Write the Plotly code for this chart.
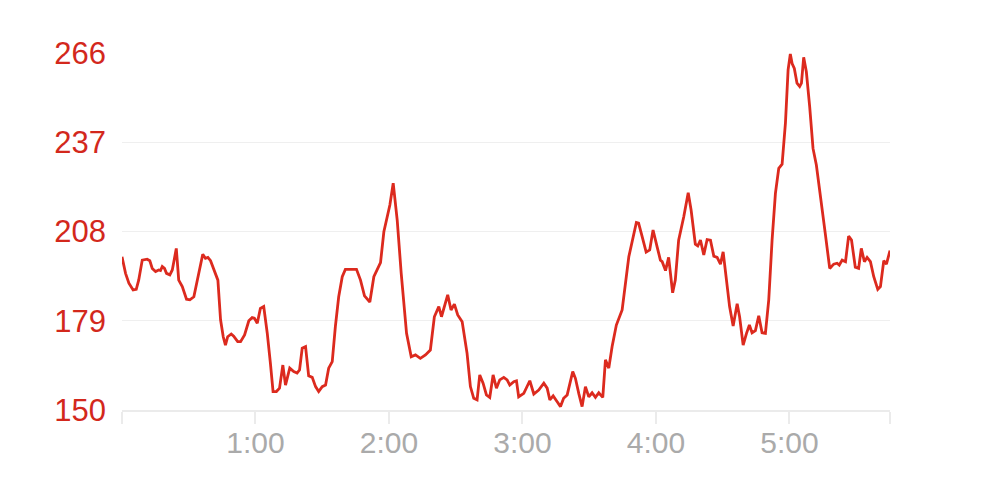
import plotly.graph_objects as go

# elapsed time in seconds and the value read at that moment
seconds = [0, 1.6, 3.1, 5.0, 6.4, 7.5, 9.1, 11.3, 12.5, 13.6, 15.1, 16.5, 17.3, 18.1, 19.1,
           20.0, 21.5, 22.6, 23.3, 24.4, 25.5, 27.1, 29.0, 30.5, 32.3, 34.5, 36.3, 37.5, 38.6,
           39.8, 42.0, 43.1, 44.3, 45.5, 46.5, 47.5, 49.1, 50.2, 52.0, 53.3, 55.1, 57.0, 58.5,
           59.5, 60.8, 62.2, 63.7, 65.3, 66.7, 67.9, 69.4, 70.8, 72.3, 73.5, 75.4, 77.2, 78.7,
           79.8, 81.0, 82.5, 83.9, 85.5, 87.0, 88.4, 90.0, 91.5, 92.9, 94.5, 95.9, 97.4, 99.0,
           100.4, 105.4, 107.2, 109.0, 111.4, 113.2, 114.7, 116.2, 117.7, 119.2, 120.4, 121.9,
           123.7, 125.5, 127.9, 130.0, 131.9, 134.1, 136.4, 138.6, 140.4, 142.4, 143.6, 146.4,
           147.9, 149.4, 150.9, 152.9, 155.1, 156.6, 158.1, 159.6, 160.8, 162.3, 163.8, 165.3,
           166.8, 168.3, 169.8, 171.6, 173.1, 174.3, 176.1, 177.3, 178.3, 180.6, 183.3, 185.1,
           187.3, 189.6, 191.1, 192.3, 193.8, 195.6, 197.1, 198.5, 200.1, 202.6, 203.8, 205.3,
           206.8, 208.3, 209.8, 211.3, 212.8, 214.3, 216.1, 217.3, 218.8, 220.3, 222.2, 224.8,
           227.8, 231.2, 232.2, 233.8, 235.6, 237.2, 238.7, 240.5, 242.0, 242.8, 244.3, 245.7,
           247.5, 248.7, 250.2, 252.5, 254.5, 255.8, 257.7, 258.8, 260.0, 261.5, 263.0, 264.5,
           266.0, 267.5, 269.0, 270.2, 271.7, 273.1, 274.7, 276.5, 277.6, 279.2, 280.7, 282.0,
           283.2, 284.7, 286.2, 287.7, 289.2, 290.7, 292.2, 293.7, 295.2, 296.7, 298.2, 299.4,
           300.4, 301.2, 302.2, 303.4, 304.6, 305.4, 306.4, 307.6, 309.1, 310.6, 312.1, 313.9,
           316.1, 318.1, 319.9, 321.4, 322.4, 323.7, 325.2, 326.6, 327.9, 329.6, 331.1, 332.3,
           333.7, 334.9, 336.4, 337.9, 339.7, 340.9, 342.4, 343.6, 345.2]
values = [199.8, 194.4, 191.2, 189.0, 189.2, 192.2, 198.7, 199.0, 198.5, 196.0, 195.0, 195.5,
          195.3, 196.6, 196.0, 194.4, 193.9, 195.5, 198.2, 202.5, 192.2, 190.1, 186.0, 185.8,
          186.8, 193.9, 200.6, 199.3, 199.6, 198.5, 194.4, 192.2, 179.3, 173.8, 171.1, 173.8,
          174.7, 174.0, 172.2, 172.2, 174.4, 179.0, 180.0, 179.8, 178.2, 183.0, 183.6, 174.9,
          165.2, 156.0, 156.0, 157.1, 164.6, 158.1, 163.6, 162.5, 162.0, 163.0, 170.1, 170.6,
          161.1, 160.6, 157.6, 156.0, 157.6, 158.1, 163.6, 165.7, 177.1, 186.8, 193.3, 195.7,
          195.7, 192.2, 187.1, 185.1, 193.3, 195.7, 197.9, 207.9, 213.4, 216.6, 223.7,
          211.7, 194.4, 174.9, 167.3, 167.9, 166.8, 167.9, 169.5, 180.3, 183.6, 180.3, 187.4,
          182.5, 184.4, 180.9, 178.7, 168.4, 157.6, 153.8, 153.3, 161.4, 158.7, 154.9, 154.1,
          161.4, 157.1, 159.8, 160.6, 159.8, 158.1, 159.2, 159.5, 154.3, 155.4, 159.5, 155.2,
          156.5, 158.7, 157.1, 153.3, 154.6, 152.7, 151.1, 153.8, 154.9, 162.5, 160.3, 155.4,
          151.1, 157.6, 154.3, 155.6, 154.1, 155.6, 154.1, 166.3, 163.6, 170.6, 177.6, 182.5,
          199.8, 210.9, 210.7, 206.3, 201.3, 202.0, 208.5, 203.1, 198.7, 198.2, 195.3, 199.6,
          188.1, 192.2, 205.2, 212.8, 220.6, 215.0, 203.9, 203.3, 205.2, 200.4, 205.4, 205.2,
          200.0, 199.6, 197.4, 201.4, 191.7, 183.6, 177.3, 184.5, 180.3, 171.1, 174.9, 177.6,
          175.1, 175.8, 180.6, 175.1, 174.9, 185.8, 205.2, 220.4, 228.5, 229.9, 243.2, 260.5,
          265.7, 262.6, 261.0, 256.2, 255.1, 256.2, 264.6, 259.9, 248.6, 235.0, 229.6, 220.4,
          207.4, 196.0, 197.4, 197.7, 197.1, 198.7, 198.2, 206.5, 205.2, 196.4, 196.0, 202.5,
          198.2, 199.6, 198.2, 193.3, 189.2, 190.1, 198.5, 197.4, 201.8]

y_ticks = [150, 179, 208, 237, 266]
x_ticks = [0, 60, 120, 180, 240, 300, 345.2]
x_labels = ["", "1:00", "2:00", "3:00", "4:00", "5:00", ""]

fig = go.Figure()
fig.add_scatter(x=seconds, y=values, mode="lines",
                line=dict(color="#dc2a1e", width=2.8, shape="linear"),
                hoverinfo="skip", showlegend=False)

# the page body has an 8px margin, so left/top are pulled in by 8
fig.update_layout(
    width=1000,
    height=491,
    margin=dict(l=114, r=118, t=45, b=89),
    paper_bgcolor="white",
    plot_bgcolor="white",
    font=dict(family="Liberation Sans, Arial, sans-serif"),
)
fig.update_xaxes(
    range=[0, 345.2],
    tickvals=x_ticks,
    ticktext=x_labels,
    ticks="outside",
    ticklen=12,
    tickwidth=2,
    tickcolor="#ebebeb",
    showline=True,
    linecolor="#ebebeb",
    linewidth=2,
    showgrid=False,
    zeroline=False,
    ticklabelstandoff=-7,
    tickfont=dict(size=30, color="#aaaaaa"),
)
fig.update_yaxes(
    range=[150, 266],
    tickvals=y_ticks,
    showgrid=True,
    gridcolor="#efefef",
    gridwidth=1,
    zeroline=False,
    showline=False,
    ticks="",
    ticklabelstandoff=15,
    tickfont=dict(size=31, color="#d3281c"),
)

fig.write_html("out.html")
